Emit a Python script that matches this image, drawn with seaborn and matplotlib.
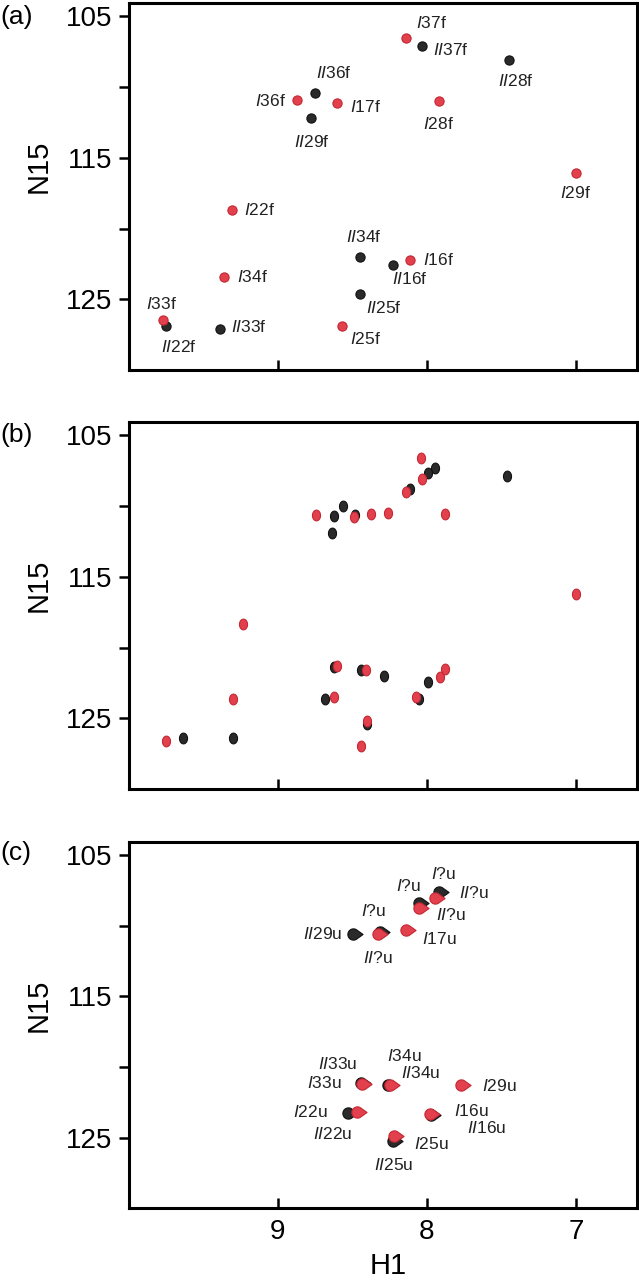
import numpy as np
import pandas as pd
import matplotlib
matplotlib.use("Agg")
import matplotlib.pyplot as plt
from matplotlib.path import Path
import seaborn as sns

sns.set_theme(style="white")
plt.rcParams["font.family"] = ["Liberation Sans", "DejaVu Sans"]
plt.rcParams["mathtext.fontset"] = "custom"
plt.rcParams["mathtext.it"] = "Liberation Sans:italic"
plt.rcParams["mathtext.rm"] = "Liberation Sans"
plt.rcParams["text.color"] = "black"
plt.rcParams["axes.labelcolor"] = "black"
plt.rcParams["xtick.color"] = "black"
plt.rcParams["ytick.color"] = "black"

# ---------------- data ----------------
# panel (a)
a_red_h1 = [8.14, 8.87, 8.60, 7.92, 7.00, 9.31, 8.11, 9.36, 9.77, 8.57]
a_red_n15 = [106.5, 110.9, 111.1, 111.0, 116.1, 118.7, 122.2, 123.4, 126.5, 126.9]
a_black_h1 = [8.03, 7.45, 8.75, 8.78, 8.45, 8.23, 8.45, 9.75, 9.39]
a_black_n15 = [107.1, 108.1, 110.4, 112.2, 122.0, 122.6, 124.6, 126.9, 127.1]
a_labels = ["I37f", "II37f", "II28f", "II36f", "I36f", "I17f", "I28f", "II29f",
            "I29f", "I22f", "II34f", "II16f", "I16f", "I34f", "II25f", "I33f",
            "II22f", "II33f", "I25f"]
a_label_h1 = [7.97, 7.84, 7.40, 8.62, 9.05, 8.41, 7.92, 8.77,
              7.00, 9.12, 8.42, 8.11, 7.92, 9.17, 8.29, 9.78,
              9.66, 9.19, 8.41]
a_label_n15 = [105.45, 107.4, 109.6, 109.0, 111.0, 111.4, 112.6, 113.9,
               117.5, 118.7, 120.6, 123.6, 122.2, 123.4, 125.6, 125.35,
               128.4, 127.0, 127.8]

# panel (b)
b_red_h1 = [8.04, 8.03, 8.14, 8.74, 8.485, 8.375, 8.26, 7.88, 7.00, 9.23,
            8.60, 8.405, 7.91, 7.88, 9.30, 8.62, 8.07, 8.40, 9.75, 8.44]
b_red_n15 = [106.6, 108.1, 109.0, 110.65, 110.8, 110.6, 110.5, 110.6, 116.2, 118.3,
             121.3, 121.6, 122.1, 121.5, 123.6, 123.5, 123.5, 125.2, 126.6, 126.95]
b_black_h1 = [7.945, 7.99, 7.46, 8.11, 8.56, 8.62, 8.48, 8.635,
              8.62, 8.44, 8.29, 7.99, 8.68, 8.05, 8.40, 9.635, 9.30]
b_black_n15 = [107.3, 107.7, 107.9, 108.8, 110.0, 110.7, 110.65, 111.9,
               121.35, 121.6, 122.0, 122.4, 123.6, 123.6, 125.4, 126.4, 126.4]

# panel (c)
c_red_h1 = [7.945, 8.054, 8.33, 8.137, 8.438, 8.25, 7.772, 8.466, 7.98, 8.22]
c_red_n15 = [108.0, 108.75, 110.55, 110.27, 121.2, 121.3, 121.3, 123.2, 123.3, 124.9]
c_black_h1 = [7.917, 8.054, 8.493, 8.315, 8.44, 8.26, 8.528, 7.972, 8.227]
c_black_n15 = [107.6, 108.4, 110.55, 110.43, 121.15, 121.25, 123.24, 123.4, 125.2]
c_labels = ["I?u", "I?u", "II?u", "I?u", "II?u", "II29u", "I17u", "II?u",
            "II33u", "I34u", "II34u", "I33u", "I29u", "I22u", "I16u", "II22u",
            "II16u", "I25u", "II25u"]
c_label_h1 = [7.89, 8.124, 7.685, 8.356, 7.836, 8.70, 7.917, 8.33,
              8.594, 8.15, 8.04, 8.685, 7.515, 8.78, 7.70, 8.63,
              7.60, 7.97, 8.22]
c_label_n15 = [106.34, 107.15, 107.67, 108.98, 109.22, 110.6, 110.95, 112.3,
               119.76, 119.22, 120.39, 121.16, 121.37, 123.2, 123.08, 124.77,
               124.3, 125.47, 126.95]

panel_names = ["(a)", "(b)", "(c)"]
y_ticks = [105, 110, 115, 120, 125]
y_ticklabels = ["105", "", "115", "", "125"]
x_ticks = [9, 8, 7]
x_ticklabels = ["9", "8", "7"]

RED = "#e2404c"
RED_EDGE = "#c42834"
BLACK = "#2a2a2a"


def fmt(s):
    n = len(s) - len(s.lstrip("I"))
    return r"$\mathit{" + "I" * n + "}$" + s[n:]


# markers
t = np.linspace(0, 2 * np.pi, 40)
ell = Path(np.column_stack([0.75 * np.cos(t), np.sin(t)]), closed=True)
tt = np.linspace(0.35 * np.pi, 1.65 * np.pi, 40)
tear_v = np.vstack([np.column_stack([np.cos(tt), np.sin(tt)]), [[1.7, 0.0]],
                    [[np.cos(tt[0]), np.sin(tt[0])]]])
tear = Path(tear_v, closed=True)

fig = plt.figure(figsize=(6.39, 12.8), dpi=100)
positions = [[0.2013, 0.711, 0.7956, 0.2867],
             [0.2013, 0.3834, 0.7956, 0.2872],
             [0.2013, 0.0560, 0.7956, 0.2864]]
panel_y = [0.9867, 0.6602, 0.3338]

panels = [
    (a_black_h1, a_black_n15, a_red_h1, a_red_n15, a_labels, a_label_h1, a_label_n15, "o", 44),
    (b_black_h1, b_black_n15, b_red_h1, b_red_n15, [], [], [], ell, 60),
    (c_black_h1, c_black_n15, c_red_h1, c_red_n15, c_labels, c_label_h1, c_label_n15, tear, 190),
]

for i, (bh, bn, rh, rn, labs, lh, ln, mk, sz) in enumerate(panels):
    ax = fig.add_axes(positions[i])
    dfb = pd.DataFrame({"H1": bh, "N15": bn})
    dfr = pd.DataFrame({"H1": rh, "N15": rn})
    sns.scatterplot(data=dfb, x="H1", y="N15", ax=ax, color=BLACK, marker=mk,
                    s=sz, edgecolor="#111111", linewidth=0.8, zorder=3)
    sns.scatterplot(data=dfr, x="H1", y="N15", ax=ax, color=RED, marker=mk,
                    s=sz, edgecolor=RED_EDGE, linewidth=0.8, zorder=4)
    for s, hx, ny in zip(labs, lh, ln):
        ax.text(hx, ny, fmt(s), ha="center", va="center", fontsize=12.5,
                color="#222222", zorder=5)
    ax.set_xlim(10.0, 6.59)
    ax.set_ylim(130.0, 104.05)
    ax.set_yticks(y_ticks)
    ax.set_yticklabels(y_ticklabels, fontsize=20)
    ax.set_xticks(x_ticks)
    if i == 2:
        ax.set_xticklabels(x_ticklabels, fontsize=20)
        ax.set_xlabel("H1", fontsize=21)
        ax.xaxis.set_label_coords(0.51, -0.12)
    else:
        ax.set_xticklabels([])
        ax.set_xlabel("")
    ax.set_ylabel("N15", fontsize=21)
    ax.yaxis.set_label_coords(-0.149, 0.555)
    ax.tick_params(axis="y", direction="out", length=7, width=1.8, pad=5,
                   left=True, colors="black")
    ax.tick_params(axis="x", direction="in", length=7, width=1.8, pad=8,
                   bottom=True, colors="black")
    for sp in ax.spines.values():
        sp.set_visible(True)
        sp.set_linewidth(2.2)
        sp.set_color("black")
    fig.text(0.0, panel_y[i], panel_names[i], fontsize=19, ha="left", va="center")

fig.savefig("out.png", dpi=100)
